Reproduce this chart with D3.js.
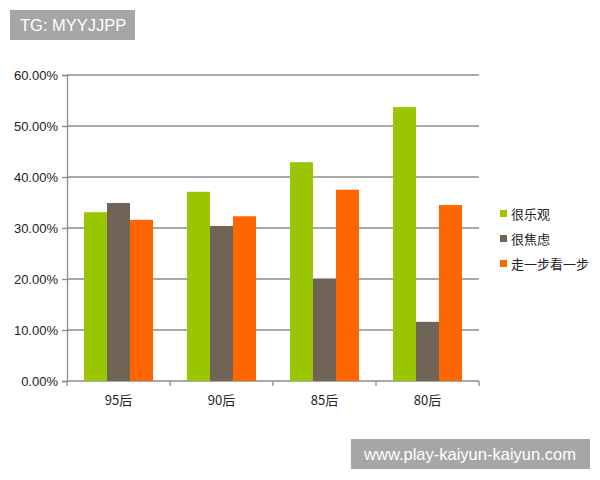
<!DOCTYPE html>
<html>
<head>
<meta charset="utf-8">
<script src="https://cdn.jsdelivr.net/npm/d3@7"></script>
<style>
  body { margin: 0; background: #fff; }
  svg { display: block; font-family: "Noto Sans CJK SC", "DejaVu Sans", sans-serif; }
</style>
</head>
<body>
<div id="chart"></div>
<script>
const categories = ["95后", "90后", "85后", "80后"];
const seriesNames = ["很乐观", "很焦虑", "走一步看一步"];
const optimistic = [0.331, 0.371, 0.429, 0.537];
const anxious = [0.349, 0.304, 0.200, 0.116];
const waitAndSee = [0.316, 0.323, 0.375, 0.345];
const yTicks = [0, 0.1, 0.2, 0.3, 0.4, 0.5, 0.6];
const colors = ["#99c600", "#6f6456", "#ff6600"];

const seriesValues = [optimistic, anxious, waitAndSee];

const width = 600;
const height = 480;
const margin = { top: 75, right: 121, bottom: 99, left: 67 };

const svg = d3.select("#chart")
  .append("svg")
  .attr("width", width)
  .attr("height", height);

const x = d3.scaleBand()
  .domain(categories)
  .range([margin.left, width - margin.right])
  .paddingInner(0.33)
  .paddingOuter(0.165);

const x1 = d3.scaleBand()
  .domain(seriesNames)
  .range([0, x.bandwidth()]);

const y = d3.scaleLinear()
  .domain([0, 0.6])
  .range([height - margin.bottom, margin.top]);

// grid lines
svg.append("g")
  .selectAll("line")
  .data(yTicks.slice(1))
  .join("line")
  .attr("x1", margin.left)
  .attr("x2", width - margin.right)
  .attr("y1", (d) => y(d))
  .attr("y2", (d) => y(d))
  .attr("stroke", "#8c8c8c")
  .attr("stroke-width", 1.3);

// y axis
const yAxis = svg.append("g")
  .attr("transform", `translate(${margin.left},0)`)
  .call(d3.axisLeft(y).tickValues(yTicks).tickFormat(d3.format(".2%")).tickSize(5).tickPadding(4));
yAxis.select(".domain").attr("stroke", "#8c8c8c").attr("stroke-width", 1.3);
yAxis.selectAll(".tick line").attr("stroke", "#8c8c8c").attr("stroke-width", 1.3);
yAxis.selectAll("text").attr("fill", "#222").style("font-size", "13px")
  .style("font-family", "Liberation Sans, Arial, sans-serif");

// x axis with ticks at band edges
const xAxisG = svg.append("g")
  .attr("transform", `translate(0,${height - margin.bottom})`);
xAxisG.append("line")
  .attr("x1", margin.left)
  .attr("x2", width - margin.right)
  .attr("stroke", "#8c8c8c")
  .attr("stroke-width", 1.3);
const step = x.step();
const edges = d3.range(categories.length + 1).map((i) => margin.left + i * step);
xAxisG.selectAll(".edge")
  .data(edges)
  .join("line")
  .attr("class", "edge")
  .attr("x1", (d) => d)
  .attr("x2", (d) => d)
  .attr("y1", 0)
  .attr("y2", 5)
  .attr("stroke", "#8c8c8c")
  .attr("stroke-width", 1.3);
xAxisG.selectAll("text")
  .data(categories)
  .join("text")
  .attr("x", (d) => x(d) + x.bandwidth() / 2)
  .attr("y", 24)
  .attr("text-anchor", "middle")
  .attr("fill", "#222")
  .style("font-size", "13px")
  .text((d) => d);

// bars
const groups = svg.append("g")
  .selectAll("g")
  .data(categories)
  .join("g")
  .attr("transform", (d) => `translate(${x(d)},0)`);

groups.selectAll("rect")
  .data((d, i) => seriesNames.map((s, j) => ({ s, v: seriesValues[j][i], j })))
  .join("rect")
  .attr("x", (d) => x1(d.s))
  .attr("width", x1.bandwidth())
  .attr("y", (d) => y(d.v))
  .attr("height", (d) => y(0) - y(d.v))
  .attr("fill", (d) => colors[d.j]);

// legend
const legend = svg.append("g")
  .attr("transform", "translate(500,214)");
const li = legend.selectAll("g")
  .data(seriesNames)
  .join("g")
  .attr("transform", (d, i) => `translate(0,${i * 25})`);
li.append("rect")
  .attr("x", 0)
  .attr("y", -4)
  .attr("width", 7)
  .attr("height", 7)
  .attr("fill", (d, i) => colors[i]);
li.append("text")
  .attr("x", 11)
  .attr("y", 0)
  .attr("dy", "0.35em")
  .attr("fill", "#222")
  .style("font-size", "13px")
  .text((d) => d);

// watermark labels
svg.append("rect")
  .attr("x", 10).attr("y", 10).attr("width", 125).attr("height", 30)
  .attr("fill", "#a6a6a6");
svg.append("text")
  .attr("x", 20).attr("y", 25).attr("dy", "0.35em")
  .attr("fill", "#fff")
  .style("font-size", "16.5px")
  .style("font-family", "Liberation Sans, Arial, sans-serif")
  .text("TG: MYYJJPP");

svg.append("rect")
  .attr("x", 351).attr("y", 439).attr("width", 239).attr("height", 30)
  .attr("fill", "#a6a6a6");
svg.append("text")
  .attr("x", 470).attr("y", 454).attr("dy", "0.35em")
  .attr("text-anchor", "middle")
  .attr("fill", "#fff")
  .style("font-size", "16.5px")
  .style("font-family", "Liberation Sans, Arial, sans-serif")
  .text("www.play-kaiyun-kaiyun.com");
</script>
</body>
</html>
